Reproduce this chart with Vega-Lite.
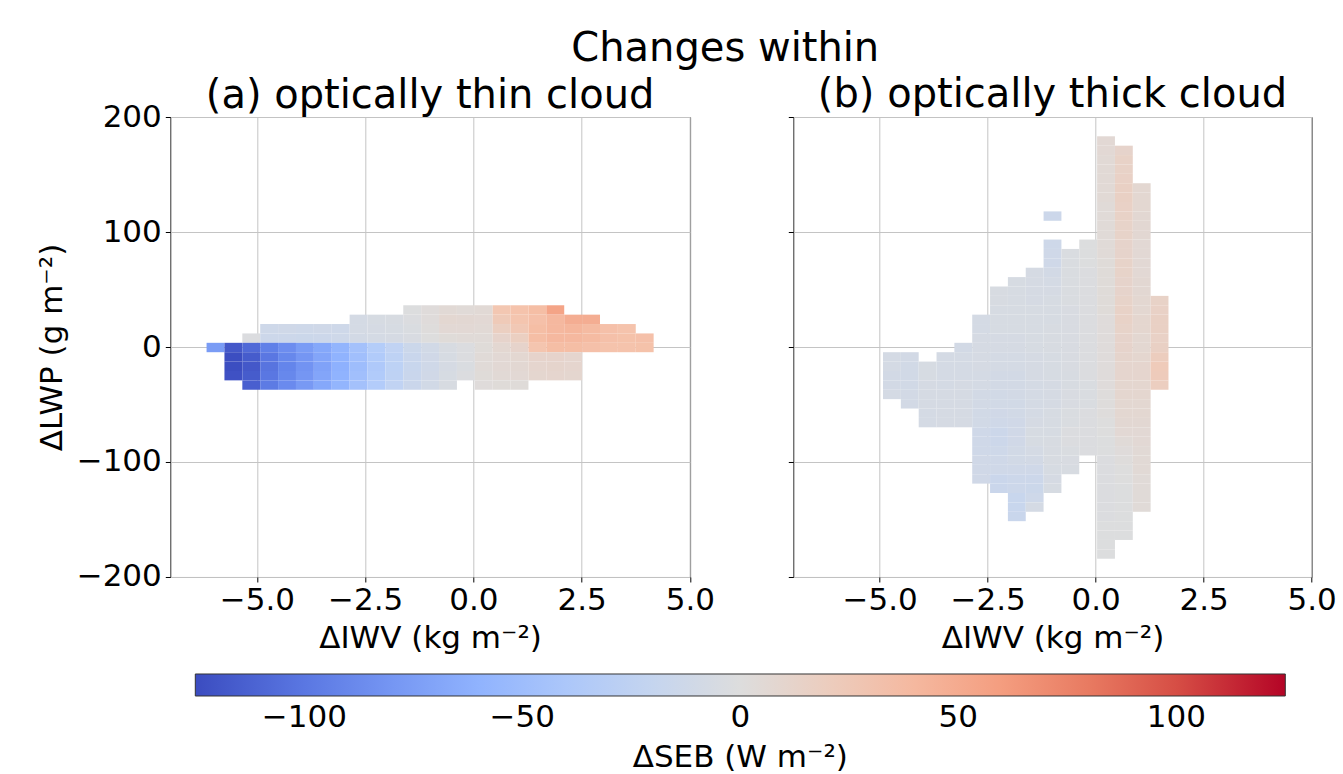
{
  "$schema": "https://vega.github.io/schema/vega-lite/v6.json",
  "background": "white",
  "padding": {"left": 35.3, "top": 29, "right": 10, "bottom": 5},
  "title": {"text": "Changes within", "fontSize": 40, "fontWeight": "normal", "anchor": "middle", "color": "black", "offset": 5, "dx": 39},
  "datasets": {
    "thin": [
      {"x":-5.99,"y":0,"v":-76},
      {"x":-5.58,"y":0,"v":-118},{"x":-5.58,"y":-8.2,"v":-124},{"x":-5.58,"y":-16.3,"v":-124},{"x":-5.58,"y":-24.5,"v":-122},
      {"x":-5.16,"y":8.2,"v":-2},{"x":-5.16,"y":0,"v":-108},{"x":-5.16,"y":-8.2,"v":-116},{"x":-5.16,"y":-16.3,"v":-118},{"x":-5.16,"y":-24.5,"v":-116},{"x":-5.16,"y":-32.7,"v":-114},
      {"x":-4.75,"y":16.3,"v":-13},{"x":-4.75,"y":8.2,"v":-14},{"x":-4.75,"y":0,"v":-95},{"x":-4.75,"y":-8.2,"v":-100},{"x":-4.75,"y":-16.3,"v":-102},{"x":-4.75,"y":-24.5,"v":-100},{"x":-4.75,"y":-32.7,"v":-98},
      {"x":-4.34,"y":16.3,"v":-12},{"x":-4.34,"y":8.2,"v":-14},{"x":-4.34,"y":0,"v":-86},{"x":-4.34,"y":-8.2,"v":-90},{"x":-4.34,"y":-16.3,"v":-92},{"x":-4.34,"y":-24.5,"v":-90},{"x":-4.34,"y":-32.7,"v":-88},
      {"x":-3.92,"y":16.3,"v":-13},{"x":-3.92,"y":8.2,"v":-15},{"x":-3.92,"y":0,"v":-76},{"x":-3.92,"y":-8.2,"v":-80},{"x":-3.92,"y":-16.3,"v":-82},{"x":-3.92,"y":-24.5,"v":-80},{"x":-3.92,"y":-32.7,"v":-78},
      {"x":-3.51,"y":16.3,"v":-12},{"x":-3.51,"y":8.2,"v":-14},{"x":-3.51,"y":0,"v":-68},{"x":-3.51,"y":-8.2,"v":-70},{"x":-3.51,"y":-16.3,"v":-72},{"x":-3.51,"y":-24.5,"v":-70},{"x":-3.51,"y":-32.7,"v":-68},
      {"x":-3.10,"y":16.3,"v":-13},{"x":-3.10,"y":8.2,"v":-13},{"x":-3.10,"y":0,"v":-58},{"x":-3.10,"y":-8.2,"v":-60},{"x":-3.10,"y":-16.3,"v":-62},{"x":-3.10,"y":-24.5,"v":-60},{"x":-3.10,"y":-32.7,"v":-58},
      {"x":-2.69,"y":24.5,"v":-8},{"x":-2.69,"y":16.3,"v":-8},{"x":-2.69,"y":8.2,"v":-9},{"x":-2.69,"y":0,"v":-46},{"x":-2.69,"y":-8.2,"v":-48},{"x":-2.69,"y":-16.3,"v":-50},{"x":-2.69,"y":-24.5,"v":-48},{"x":-2.69,"y":-32.7,"v":-46},
      {"x":-2.27,"y":24.5,"v":-6},{"x":-2.27,"y":16.3,"v":-7},{"x":-2.27,"y":8.2,"v":-8},{"x":-2.27,"y":0,"v":-34},{"x":-2.27,"y":-8.2,"v":-36},{"x":-2.27,"y":-16.3,"v":-38},{"x":-2.27,"y":-24.5,"v":-36},{"x":-2.27,"y":-32.7,"v":-35},
      {"x":-1.86,"y":24.5,"v":-5},{"x":-1.86,"y":16.3,"v":-6},{"x":-1.86,"y":8.2,"v":-7},{"x":-1.86,"y":0,"v":-24},{"x":-1.86,"y":-8.2,"v":-26},{"x":-1.86,"y":-16.3,"v":-27},{"x":-1.86,"y":-24.5,"v":-26},{"x":-1.86,"y":-32.7,"v":-24},
      {"x":-1.45,"y":32.7,"v":-1},{"x":-1.45,"y":24.5,"v":-2},{"x":-1.45,"y":16.3,"v":-3},{"x":-1.45,"y":8.2,"v":-4},{"x":-1.45,"y":0,"v":-15},{"x":-1.45,"y":-8.2,"v":-17},{"x":-1.45,"y":-16.3,"v":-18},{"x":-1.45,"y":-24.5,"v":-17},{"x":-1.45,"y":-32.7,"v":-16},
      {"x":-1.03,"y":32.7,"v":2},{"x":-1.03,"y":24.5,"v":2},{"x":-1.03,"y":16.3,"v":1},{"x":-1.03,"y":8.2,"v":0},{"x":-1.03,"y":0,"v":-10},{"x":-1.03,"y":-8.2,"v":-11},{"x":-1.03,"y":-16.3,"v":-12},{"x":-1.03,"y":-24.5,"v":-11},{"x":-1.03,"y":-32.7,"v":-10},
      {"x":-0.62,"y":32.7,"v":5},{"x":-0.62,"y":24.5,"v":8},{"x":-0.62,"y":16.3,"v":6},{"x":-0.62,"y":8.2,"v":3},{"x":-0.62,"y":0,"v":-5},{"x":-0.62,"y":-8.2,"v":-6},{"x":-0.62,"y":-16.3,"v":-7},{"x":-0.62,"y":-24.5,"v":-6},{"x":-0.62,"y":-32.7,"v":-5},
      {"x":-0.21,"y":32.7,"v":4},{"x":-0.21,"y":24.5,"v":7},{"x":-0.21,"y":16.3,"v":6},{"x":-0.21,"y":8.2,"v":4},{"x":-0.21,"y":0,"v":-2},{"x":-0.21,"y":-8.2,"v":-2},{"x":-0.21,"y":-16.3,"v":-3},{"x":-0.21,"y":-24.5,"v":-2},
      {"x":0.21,"y":32.7,"v":5},{"x":0.21,"y":24.5,"v":6},{"x":0.21,"y":16.3,"v":5},{"x":0.21,"y":8.2,"v":4},{"x":0.21,"y":0,"v":3},{"x":0.21,"y":-8.2,"v":4},{"x":0.21,"y":-16.3,"v":4},{"x":0.21,"y":-24.5,"v":3},{"x":0.21,"y":-32.7,"v":2},
      {"x":0.62,"y":32.7,"v":28},{"x":0.62,"y":24.5,"v":24},{"x":0.62,"y":16.3,"v":18},{"x":0.62,"y":8.2,"v":12},{"x":0.62,"y":0,"v":8},{"x":0.62,"y":-8.2,"v":6},{"x":0.62,"y":-16.3,"v":6},{"x":0.62,"y":-24.5,"v":5},{"x":0.62,"y":-32.7,"v":3},
      {"x":1.03,"y":32.7,"v":32},{"x":1.03,"y":24.5,"v":30},{"x":1.03,"y":16.3,"v":26},{"x":1.03,"y":8.2,"v":18},{"x":1.03,"y":0,"v":12},{"x":1.03,"y":-8.2,"v":8},{"x":1.03,"y":-16.3,"v":7},{"x":1.03,"y":-24.5,"v":6},{"x":1.03,"y":-32.7,"v":3},
      {"x":1.45,"y":32.7,"v":36},{"x":1.45,"y":24.5,"v":34},{"x":1.45,"y":16.3,"v":36},{"x":1.45,"y":8.2,"v":36},{"x":1.45,"y":0,"v":30},{"x":1.45,"y":-8.2,"v":12},{"x":1.45,"y":-16.3,"v":10},{"x":1.45,"y":-24.5,"v":9},
      {"x":1.86,"y":32.7,"v":55},{"x":1.86,"y":24.5,"v":40},{"x":1.86,"y":16.3,"v":40},{"x":1.86,"y":8.2,"v":40},{"x":1.86,"y":0,"v":36},{"x":1.86,"y":-8.2,"v":12},{"x":1.86,"y":-16.3,"v":11},{"x":1.86,"y":-24.5,"v":10},
      {"x":2.27,"y":24.5,"v":48},{"x":2.27,"y":16.3,"v":42},{"x":2.27,"y":8.2,"v":40},{"x":2.27,"y":0,"v":36},{"x":2.27,"y":-8.2,"v":10},{"x":2.27,"y":-16.3,"v":10},{"x":2.27,"y":-24.5,"v":9},
      {"x":2.69,"y":24.5,"v":48},{"x":2.69,"y":16.3,"v":38},{"x":2.69,"y":8.2,"v":38},{"x":2.69,"y":0,"v":34},
      {"x":3.10,"y":16.3,"v":34},{"x":3.10,"y":8.2,"v":34},{"x":3.10,"y":0,"v":32},
      {"x":3.51,"y":16.3,"v":32},{"x":3.51,"y":8.2,"v":33},{"x":3.51,"y":0,"v":32},
      {"x":3.92,"y":8.2,"v":34},{"x":3.92,"y":0,"v":33}
    ],
    "thick": [
      {"x":-4.75,"y":-8.2,"v":-8},{"x":-4.75,"y":-16.3,"v":-8},{"x":-4.75,"y":-24.5,"v":-9},{"x":-4.75,"y":-32.7,"v":-9},{"x":-4.75,"y":-40.8,"v":-8},
      {"x":-4.34,"y":-8.2,"v":-9},{"x":-4.34,"y":-16.3,"v":-10},{"x":-4.34,"y":-24.5,"v":-10},{"x":-4.34,"y":-32.7,"v":-10},{"x":-4.34,"y":-40.8,"v":-9},{"x":-4.34,"y":-49.0,"v":-9},
      {"x":-3.92,"y":-16.3,"v":-6},{"x":-3.92,"y":-24.5,"v":-6},{"x":-3.92,"y":-32.7,"v":-7},{"x":-3.92,"y":-40.8,"v":-7},{"x":-3.92,"y":-49.0,"v":-7},{"x":-3.92,"y":-57.1,"v":-8},{"x":-3.92,"y":-65.3,"v":-8},
      {"x":-3.51,"y":-8.2,"v":-8},{"x":-3.51,"y":-16.3,"v":-8},{"x":-3.51,"y":-24.5,"v":-8},{"x":-3.51,"y":-32.7,"v":-8},{"x":-3.51,"y":-40.8,"v":-7},{"x":-3.51,"y":-49.0,"v":-7},{"x":-3.51,"y":-57.1,"v":-7},{"x":-3.51,"y":-65.3,"v":-7},
      {"x":-3.10,"y":0,"v":-9},{"x":-3.10,"y":-8.2,"v":-8},{"x":-3.10,"y":-16.3,"v":-8},{"x":-3.10,"y":-24.5,"v":-8},{"x":-3.10,"y":-32.7,"v":-7},{"x":-3.10,"y":-40.8,"v":-7},{"x":-3.10,"y":-49.0,"v":-7},{"x":-3.10,"y":-57.1,"v":-7},{"x":-3.10,"y":-65.3,"v":-7},
      {"x":-2.69,"y":24.5,"v":-8},{"x":-2.69,"y":16.3,"v":-8},{"x":-2.69,"y":8.2,"v":-7},{"x":-2.69,"y":0,"v":-7},{"x":-2.69,"y":-8.2,"v":-7},{"x":-2.69,"y":-16.3,"v":-7},{"x":-2.69,"y":-24.5,"v":-8},{"x":-2.69,"y":-32.7,"v":-8},{"x":-2.69,"y":-40.8,"v":-9},{"x":-2.69,"y":-49.0,"v":-9},{"x":-2.69,"y":-57.1,"v":-10},{"x":-2.69,"y":-65.3,"v":-10},{"x":-2.69,"y":-73.5,"v":-12},{"x":-2.69,"y":-81.6,"v":-12},{"x":-2.69,"y":-89.8,"v":-12},{"x":-2.69,"y":-98.0,"v":-11},{"x":-2.69,"y":-106.1,"v":-11},{"x":-2.69,"y":-114.3,"v":-11},
      {"x":-2.27,"y":49.0,"v":-5},{"x":-2.27,"y":40.8,"v":-5},{"x":-2.27,"y":32.7,"v":-6},{"x":-2.27,"y":24.5,"v":-6},{"x":-2.27,"y":16.3,"v":-6},{"x":-2.27,"y":8.2,"v":-7},{"x":-2.27,"y":0,"v":-7},{"x":-2.27,"y":-8.2,"v":-8},{"x":-2.27,"y":-16.3,"v":-8},{"x":-2.27,"y":-24.5,"v":-9},{"x":-2.27,"y":-32.7,"v":-9},{"x":-2.27,"y":-40.8,"v":-10},{"x":-2.27,"y":-49.0,"v":-10},{"x":-2.27,"y":-57.1,"v":-11},{"x":-2.27,"y":-65.3,"v":-12},{"x":-2.27,"y":-73.5,"v":-14},{"x":-2.27,"y":-81.6,"v":-14},{"x":-2.27,"y":-89.8,"v":-13},{"x":-2.27,"y":-98.0,"v":-12},{"x":-2.27,"y":-106.1,"v":-12},{"x":-2.27,"y":-114.3,"v":-16},{"x":-2.27,"y":-122.4,"v":-16},
      {"x":-1.86,"y":57.1,"v":-6},{"x":-1.86,"y":49.0,"v":-6},{"x":-1.86,"y":40.8,"v":-6},{"x":-1.86,"y":32.7,"v":-6},{"x":-1.86,"y":24.5,"v":-6},{"x":-1.86,"y":16.3,"v":-6},{"x":-1.86,"y":8.2,"v":-7},{"x":-1.86,"y":0,"v":-7},{"x":-1.86,"y":-8.2,"v":-8},{"x":-1.86,"y":-16.3,"v":-8},{"x":-1.86,"y":-24.5,"v":-9},{"x":-1.86,"y":-32.7,"v":-9},{"x":-1.86,"y":-40.8,"v":-9},{"x":-1.86,"y":-49.0,"v":-10},{"x":-1.86,"y":-57.1,"v":-10},{"x":-1.86,"y":-65.3,"v":-11},{"x":-1.86,"y":-73.5,"v":-11},{"x":-1.86,"y":-81.6,"v":-11},{"x":-1.86,"y":-89.8,"v":-10},{"x":-1.86,"y":-98.0,"v":-10},{"x":-1.86,"y":-106.1,"v":-12},{"x":-1.86,"y":-114.3,"v":-14},{"x":-1.86,"y":-122.4,"v":-14},{"x":-1.86,"y":-130.6,"v":-18},{"x":-1.86,"y":-138.8,"v":-18},{"x":-1.86,"y":-146.9,"v":-17},
      {"x":-1.45,"y":65.3,"v":-7},{"x":-1.45,"y":57.1,"v":-7},{"x":-1.45,"y":49.0,"v":-7},{"x":-1.45,"y":40.8,"v":-7},{"x":-1.45,"y":32.7,"v":-6},{"x":-1.45,"y":24.5,"v":-6},{"x":-1.45,"y":16.3,"v":-6},{"x":-1.45,"y":8.2,"v":-6},{"x":-1.45,"y":0,"v":-6},{"x":-1.45,"y":-8.2,"v":-7},{"x":-1.45,"y":-16.3,"v":-7},{"x":-1.45,"y":-24.5,"v":-7},{"x":-1.45,"y":-32.7,"v":-8},{"x":-1.45,"y":-40.8,"v":-8},{"x":-1.45,"y":-49.0,"v":-8},{"x":-1.45,"y":-57.1,"v":-8},{"x":-1.45,"y":-65.3,"v":-7},{"x":-1.45,"y":-73.5,"v":-6},{"x":-1.45,"y":-81.6,"v":-6},{"x":-1.45,"y":-89.8,"v":-8},{"x":-1.45,"y":-98.0,"v":-9},{"x":-1.45,"y":-106.1,"v":-12},{"x":-1.45,"y":-114.3,"v":-14},{"x":-1.45,"y":-122.4,"v":-15},{"x":-1.45,"y":-130.6,"v":-13},{"x":-1.45,"y":-138.8,"v":-8},
      {"x":-1.03,"y":114.3,"v":-14},{"x":-1.03,"y":89.8,"v":-13},{"x":-1.03,"y":81.6,"v":-12},{"x":-1.03,"y":73.5,"v":-12},{"x":-1.03,"y":65.3,"v":-9},{"x":-1.03,"y":57.1,"v":-8},{"x":-1.03,"y":49.0,"v":-7},{"x":-1.03,"y":40.8,"v":-6},{"x":-1.03,"y":32.7,"v":-6},{"x":-1.03,"y":24.5,"v":-6},{"x":-1.03,"y":16.3,"v":-5},{"x":-1.03,"y":8.2,"v":-5},{"x":-1.03,"y":0,"v":-5},{"x":-1.03,"y":-8.2,"v":-6},{"x":-1.03,"y":-16.3,"v":-6},{"x":-1.03,"y":-24.5,"v":-6},{"x":-1.03,"y":-32.7,"v":-7},{"x":-1.03,"y":-40.8,"v":-7},{"x":-1.03,"y":-49.0,"v":-7},{"x":-1.03,"y":-57.1,"v":-6},{"x":-1.03,"y":-65.3,"v":-6},{"x":-1.03,"y":-73.5,"v":-6},{"x":-1.03,"y":-81.6,"v":-5},{"x":-1.03,"y":-89.8,"v":-5},{"x":-1.03,"y":-98.0,"v":-5},{"x":-1.03,"y":-106.1,"v":-6},{"x":-1.03,"y":-114.3,"v":-7},{"x":-1.03,"y":-122.4,"v":-6},
      {"x":-0.62,"y":81.6,"v":-3},{"x":-0.62,"y":73.5,"v":-3},{"x":-0.62,"y":65.3,"v":-3},{"x":-0.62,"y":57.1,"v":-3},{"x":-0.62,"y":49.0,"v":-3},{"x":-0.62,"y":40.8,"v":-3},{"x":-0.62,"y":32.7,"v":-4},{"x":-0.62,"y":24.5,"v":-4},{"x":-0.62,"y":16.3,"v":-4},{"x":-0.62,"y":8.2,"v":-4},{"x":-0.62,"y":0,"v":-4},{"x":-0.62,"y":-8.2,"v":-4},{"x":-0.62,"y":-16.3,"v":-4},{"x":-0.62,"y":-24.5,"v":-5},{"x":-0.62,"y":-32.7,"v":-5},{"x":-0.62,"y":-40.8,"v":-4},{"x":-0.62,"y":-49.0,"v":-4},{"x":-0.62,"y":-57.1,"v":-3},{"x":-0.62,"y":-65.3,"v":-3},{"x":-0.62,"y":-73.5,"v":-2},{"x":-0.62,"y":-81.6,"v":-2},{"x":-0.62,"y":-89.8,"v":-3},{"x":-0.62,"y":-98.0,"v":-4},{"x":-0.62,"y":-106.1,"v":-5},
      {"x":-0.21,"y":89.8,"v":-1},{"x":-0.21,"y":81.6,"v":-1},{"x":-0.21,"y":73.5,"v":-1},{"x":-0.21,"y":65.3,"v":-2},{"x":-0.21,"y":57.1,"v":-2},{"x":-0.21,"y":49.0,"v":-2},{"x":-0.21,"y":40.8,"v":-2},{"x":-0.21,"y":32.7,"v":-2},{"x":-0.21,"y":24.5,"v":-2},{"x":-0.21,"y":16.3,"v":-2},{"x":-0.21,"y":8.2,"v":-2},{"x":-0.21,"y":0,"v":-2},{"x":-0.21,"y":-8.2,"v":-2},{"x":-0.21,"y":-16.3,"v":-2},{"x":-0.21,"y":-24.5,"v":-2},{"x":-0.21,"y":-32.7,"v":-3},{"x":-0.21,"y":-40.8,"v":-3},{"x":-0.21,"y":-49.0,"v":-3},{"x":-0.21,"y":-57.1,"v":-2},{"x":-0.21,"y":-65.3,"v":-2},{"x":-0.21,"y":-73.5,"v":-2},{"x":-0.21,"y":-81.6,"v":-2},{"x":-0.21,"y":-89.8,"v":-2},
      {"x":0.21,"y":179.6,"v":6},{"x":0.21,"y":171.4,"v":6},{"x":0.21,"y":163.3,"v":5},{"x":0.21,"y":155.1,"v":5},{"x":0.21,"y":146.9,"v":5},{"x":0.21,"y":138.8,"v":5},{"x":0.21,"y":130.6,"v":5},{"x":0.21,"y":122.4,"v":4},{"x":0.21,"y":114.3,"v":4},{"x":0.21,"y":106.1,"v":4},{"x":0.21,"y":98.0,"v":4},{"x":0.21,"y":89.8,"v":4},{"x":0.21,"y":81.6,"v":4},{"x":0.21,"y":73.5,"v":3},{"x":0.21,"y":65.3,"v":3},{"x":0.21,"y":57.1,"v":3},{"x":0.21,"y":49.0,"v":3},{"x":0.21,"y":40.8,"v":3},{"x":0.21,"y":32.7,"v":3},{"x":0.21,"y":24.5,"v":2},{"x":0.21,"y":16.3,"v":2},{"x":0.21,"y":8.2,"v":2},{"x":0.21,"y":0,"v":2},{"x":0.21,"y":-8.2,"v":2},{"x":0.21,"y":-16.3,"v":2},{"x":0.21,"y":-24.5,"v":2},{"x":0.21,"y":-32.7,"v":2},{"x":0.21,"y":-40.8,"v":1},{"x":0.21,"y":-49.0,"v":1},{"x":0.21,"y":-57.1,"v":1},{"x":0.21,"y":-65.3,"v":0},{"x":0.21,"y":-73.5,"v":0},{"x":0.21,"y":-81.6,"v":-1},{"x":0.21,"y":-89.8,"v":-1},{"x":0.21,"y":-98.0,"v":-2},{"x":0.21,"y":-106.1,"v":-2},{"x":0.21,"y":-114.3,"v":-2},{"x":0.21,"y":-122.4,"v":-2},{"x":0.21,"y":-130.6,"v":-2},{"x":0.21,"y":-138.8,"v":-2},{"x":0.21,"y":-146.9,"v":-2},{"x":0.21,"y":-155.1,"v":-1},{"x":0.21,"y":-163.3,"v":-1},{"x":0.21,"y":-171.4,"v":-1},{"x":0.21,"y":-179.6,"v":-1},
      {"x":0.62,"y":171.4,"v":12},{"x":0.62,"y":163.3,"v":14},{"x":0.62,"y":155.1,"v":14},{"x":0.62,"y":146.9,"v":15},{"x":0.62,"y":138.8,"v":16},{"x":0.62,"y":130.6,"v":16},{"x":0.62,"y":122.4,"v":15},{"x":0.62,"y":114.3,"v":14},{"x":0.62,"y":106.1,"v":13},{"x":0.62,"y":98.0,"v":13},{"x":0.62,"y":89.8,"v":12},{"x":0.62,"y":81.6,"v":12},{"x":0.62,"y":73.5,"v":13},{"x":0.62,"y":65.3,"v":13},{"x":0.62,"y":57.1,"v":12},{"x":0.62,"y":49.0,"v":12},{"x":0.62,"y":40.8,"v":13},{"x":0.62,"y":32.7,"v":14},{"x":0.62,"y":24.5,"v":14},{"x":0.62,"y":16.3,"v":13},{"x":0.62,"y":8.2,"v":12},{"x":0.62,"y":0,"v":12},{"x":0.62,"y":-8.2,"v":11},{"x":0.62,"y":-16.3,"v":10},{"x":0.62,"y":-24.5,"v":10},{"x":0.62,"y":-32.7,"v":9},{"x":0.62,"y":-40.8,"v":9},{"x":0.62,"y":-49.0,"v":8},{"x":0.62,"y":-57.1,"v":8},{"x":0.62,"y":-65.3,"v":7},{"x":0.62,"y":-73.5,"v":6},{"x":0.62,"y":-81.6,"v":4},{"x":0.62,"y":-89.8,"v":2},{"x":0.62,"y":-98.0,"v":1},{"x":0.62,"y":-106.1,"v":0},{"x":0.62,"y":-114.3,"v":0},{"x":0.62,"y":-122.4,"v":-1},{"x":0.62,"y":-130.6,"v":-1},{"x":0.62,"y":-138.8,"v":-1},{"x":0.62,"y":-146.9,"v":-1},{"x":0.62,"y":-155.1,"v":-1},{"x":0.62,"y":-163.3,"v":-1},
      {"x":1.03,"y":138.8,"v":8},{"x":1.03,"y":130.6,"v":8},{"x":1.03,"y":122.4,"v":8},{"x":1.03,"y":114.3,"v":7},{"x":1.03,"y":106.1,"v":7},{"x":1.03,"y":98.0,"v":7},{"x":1.03,"y":89.8,"v":6},{"x":1.03,"y":81.6,"v":6},{"x":1.03,"y":73.5,"v":6},{"x":1.03,"y":65.3,"v":6},{"x":1.03,"y":57.1,"v":7},{"x":1.03,"y":49.0,"v":7},{"x":1.03,"y":40.8,"v":8},{"x":1.03,"y":32.7,"v":8},{"x":1.03,"y":24.5,"v":9},{"x":1.03,"y":16.3,"v":9},{"x":1.03,"y":8.2,"v":8},{"x":1.03,"y":0,"v":8},{"x":1.03,"y":-8.2,"v":9},{"x":1.03,"y":-16.3,"v":10},{"x":1.03,"y":-24.5,"v":10},{"x":1.03,"y":-32.7,"v":9},{"x":1.03,"y":-40.8,"v":9},{"x":1.03,"y":-49.0,"v":8},{"x":1.03,"y":-57.1,"v":8},{"x":1.03,"y":-65.3,"v":7},{"x":1.03,"y":-73.5,"v":6},{"x":1.03,"y":-81.6,"v":6},{"x":1.03,"y":-89.8,"v":5},{"x":1.03,"y":-98.0,"v":5},{"x":1.03,"y":-106.1,"v":5},{"x":1.03,"y":-114.3,"v":4},{"x":1.03,"y":-122.4,"v":4},{"x":1.03,"y":-130.6,"v":4},{"x":1.03,"y":-138.8,"v":4},
      {"x":1.45,"y":40.8,"v":14},{"x":1.45,"y":32.7,"v":15},{"x":1.45,"y":24.5,"v":16},{"x":1.45,"y":16.3,"v":16},{"x":1.45,"y":8.2,"v":15},{"x":1.45,"y":0,"v":16},{"x":1.45,"y":-8.2,"v":20},{"x":1.45,"y":-16.3,"v":23},{"x":1.45,"y":-24.5,"v":22},{"x":1.45,"y":-32.7,"v":19}
    ]
  },
  "spacing": 103,
  "bounds": "flush",
  "resolve": {"scale": {"color": "shared"}},
  "hconcat": [
    {
      "width": 519.6,
      "height": 460,
      "title": {"text": "(a) optically thin cloud", "offset": -15},
      "data": {"name": "thin"},
      "mark": {"type": "rect"},
      "encoding": {
        "x": {"field": "x", "type": "quantitative", "bin": {"step": 0.413, "extent": [-7, 5], "nice": false},
              "scale": {"domain": [-7, 5], "nice": false, "zero": false},
              "axis": {"values": [-5, -2.5, 0, 2.5, 5], "format": ".1f", "title": "ΔIWV (kg m⁻²)"}},
        "y": {"field": "y", "type": "quantitative", "bin": {"step": 8.163, "extent": [-200, 200], "nice": false},
              "scale": {"domain": [-200, 200], "nice": false, "zero": false},
              "axis": {"values": [-200, -100, 0, 100, 200], "format": "d", "title": "ΔLWP (g m⁻²)"}},
        "color": {"field": "v", "type": "quantitative",
                  "scale": {"type": "linear", "domain": [-125, -93.75, -62.5, -31.25, 0, 31.25, 62.5, 93.75, 125],
                            "range": ["#3b4cc0", "#6282ea", "#8db0fe", "#b8d0f9", "#dddddd", "#f5c4ad", "#f49a7b", "#de604d", "#b40426"],
                            "interpolate": "rgb"},
                  "legend": {"orient": "none", "direction": "horizontal", "legendX": 25, "legendY": 557,
                             "gradientLength": 1090, "gradientThickness": 22,
                             "values": [-100, -50, 0, 50, 100], "format": "d",
                             "title": "ΔSEB (W m⁻²)", "titleOrient": "bottom", "titleAnchor": "middle", "titleLimit": 0,
                             "labelFontSize": 31, "titleFontSize": 31, "titleFontWeight": "normal",
                             "labelColor": "black", "titleColor": "black",
                             "gradientStrokeColor": "#333333", "gradientStrokeWidth": 1,
                             "labelOffset": 7, "titlePadding": 10, "padding": 0}}
      }
    },
    {
      "width": 518.4,
      "height": 460,
      "title": {"text": "(b) optically thick cloud", "offset": 2},
      "data": {"name": "thick"},
      "mark": {"type": "rect"},
      "encoding": {
        "x": {"field": "x", "type": "quantitative", "bin": {"step": 0.413, "extent": [-7, 5], "nice": false},
              "scale": {"domain": [-7, 5], "nice": false, "zero": false},
              "axis": {"values": [-5, -2.5, 0, 2.5, 5], "format": ".1f", "title": "ΔIWV (kg m⁻²)"}},
        "y": {"field": "y", "type": "quantitative", "bin": {"step": 8.163, "extent": [-200, 200], "nice": false},
              "scale": {"domain": [-200, 200], "nice": false, "zero": false},
              "axis": {"values": [-200, -100, 0, 100, 200], "labels": false, "title": null}},
        "color": {"field": "v", "type": "quantitative"}
      }
    }
  ],
  "config": {
    "font": "DejaVu Sans",
    "view": {"stroke": "#333333", "strokeWidth": 1},
    "axis": {"labelFontSize": 31, "titleFontSize": 31, "titleFontWeight": "normal", "labelColor": "black", "titleColor": "black",
             "tickColor": "black", "tickSize": 5, "tickWidth": 1, "domain": false, "grid": true, "gridColor": "#c4c4c4", "gridWidth": 1,
             "zindex": 1, "labelPadding": 4, "titlePadding": 8, "labelFlush": false, "labelOverlap": false},
    "title": {"fontSize": 40, "fontWeight": "normal", "color": "black"},
    "legend": {"gradientHorizontalMaxLength": 1200, "gradientHorizontalMinLength": 100}
  }
}
